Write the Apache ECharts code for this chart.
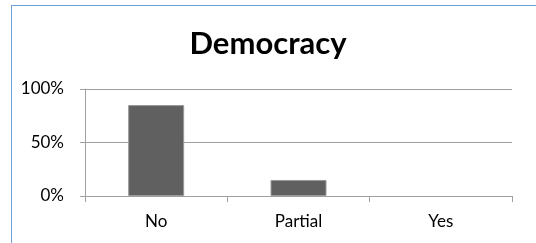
<!DOCTYPE html>
<html>
<head>
<meta charset="utf-8">
<script src="https://cdn.jsdelivr.net/npm/echarts@6/dist/echarts.min.js"></script>
<style>
  html, body { margin: 0; padding: 0; background: #fff; }
  #frame { position: absolute; left: 11px; top: 5px; width: 600px; height: 300px;
           border-left: 1px solid #6f9fd8; border-top: 1px solid #6f9fd8; }
  #container { position: absolute; left: 0; top: 0; width: 536px; height: 243px; }
</style>
</head>
<body>
<div id="frame"></div>
<div id="container"></div>
<script>
var categories = ['No', 'Partial', 'Yes'];
var shares = [85, 15, 0];
var yTicks = [0, 50, 100];

var myChart = echarts.init(document.getElementById('container'));

var option = {
    animation: false,
    title: {
        text: 'Democracy',
        left: 'center',
        top: 23,
        textStyle: {
            fontFamily: 'Lato',
            fontWeight: 'bold',
            fontSize: 31,
            color: '#000'
        }
    },
    grid: {
        left: 85,
        right: 24,
        top: 89,
        bottom: 47
    },
    xAxis: {
        type: 'category',
        data: categories,
        axisLine: { lineStyle: { color: '#a0a0a0', width: 1 } },
        axisTick: { show: true, length: 6, lineStyle: { color: '#a0a0a0' } },
        axisLabel: {
            margin: 17,
            fontFamily: 'Lato',
            fontSize: 17,
            color: '#000'
        }
    },
    yAxis: {
        type: 'value',
        min: yTicks[0],
        max: yTicks[yTicks.length - 1],
        interval: 50,
        axisLine: { show: true, lineStyle: { color: '#a0a0a0', width: 1 } },
        axisTick: { show: true, length: 5, lineStyle: { color: '#a0a0a0' } },
        splitLine: { lineStyle: { color: '#a0a0a0', width: 1 } },
        axisLabel: {
            margin: 21,
            fontFamily: 'Lato',
            fontSize: 17,
            color: '#000',
            formatter: '{value}%'
        }
    },
    series: [{
        type: 'bar',
        data: shares.map(function (v) {
            return { value: v, itemStyle: { borderWidth: v > 0 ? 1 : 0 } };
        }),
        barWidth: 56,
        itemStyle: {
            color: '#606060',
            borderColor: '#9a9a9a',
            borderWidth: 1
        }
    }]
};

myChart.setOption(option);
</script>
</body>
</html>
